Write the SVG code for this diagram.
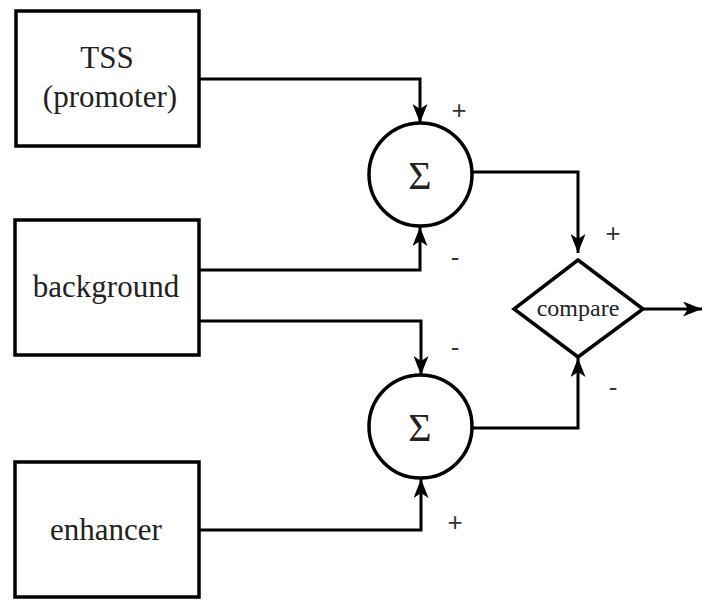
<svg xmlns="http://www.w3.org/2000/svg" width="702" height="600" viewBox="0 0 702 600">
<style>
.box{fill:#fff;stroke:#000;stroke-width:3.5}
.wire{fill:none;stroke:#000;stroke-width:3}
</style>
<defs>
<marker id="ahb" markerWidth="19" markerHeight="15" viewBox="0 0 19 15" refX="19" refY="7.5" orient="auto" markerUnits="userSpaceOnUse">
<path d="M0,0 L19,7.5 L0,15 L5,7.5 Z" fill="#000"/>
</marker>
</defs>
<rect width="702" height="600" fill="#fff"/>
<g id="connectors">
<polyline class="wire" points="199,79 420,79 420,123" marker-end="url(#ahb)"/>
<polyline class="wire" points="199,270 420,270 420,227" marker-end="url(#ahb)"/>
<polyline class="wire" points="199,321 421,321 421,375" marker-end="url(#ahb)"/>
<polyline class="wire" points="199,530 421,530 421,479" marker-end="url(#ahb)"/>
<polyline class="wire" points="473,172 578,172 578,253" marker-end="url(#ahb)"/>
<polyline class="wire" points="473,428 578,428 578,358" marker-end="url(#ahb)"/>
<line class="wire" x1="643" y1="309" x2="702" y2="309" marker-end="url(#ahb)"/>
</g>
<g font-family="'Liberation Serif', 'Times New Roman', serif" fill="#222" text-anchor="middle">
<g id="tss">
<rect class="box" x="16" y="11" width="183" height="135"/>
<text x="107" y="68" font-size="31">TSS</text>
<text x="110" y="107" font-size="31">(promoter)</text>
</g>
<g id="background">
<rect class="box" x="15" y="220" width="184" height="135"/>
<text x="106" y="297" font-size="31">background</text>
</g>
<g id="enhancer">
<rect class="box" x="15" y="462" width="184" height="135"/>
<text x="106" y="540" font-size="31">enhancer</text>
</g>
<g id="sum1">
<circle class="box" cx="420.5" cy="174.5" r="51.5" stroke-width="3"/>
<text x="420" y="189" font-size="40">Σ</text>
</g>
<g id="sum2">
<circle class="box" cx="420.5" cy="426.5" r="51.5" stroke-width="3"/>
<text x="420" y="441" font-size="40">Σ</text>
</g>
<g id="compare">
<polygon class="box" points="578,260 643,309 578,357 514,309" stroke-width="3"/>
<text x="578" y="316" font-size="24">compare</text>
</g>
</g>
<g id="signs" font-family="'Liberation Sans', Arial, sans-serif" font-size="26" fill="#333" text-anchor="middle">
<text x="459" y="119">+</text>
<text x="455" y="266">-</text>
<text x="455" y="356">-</text>
<text x="455" y="531">+</text>
<text x="613" y="242">+</text>
<text x="613" y="396">-</text>
</g>
</svg>
